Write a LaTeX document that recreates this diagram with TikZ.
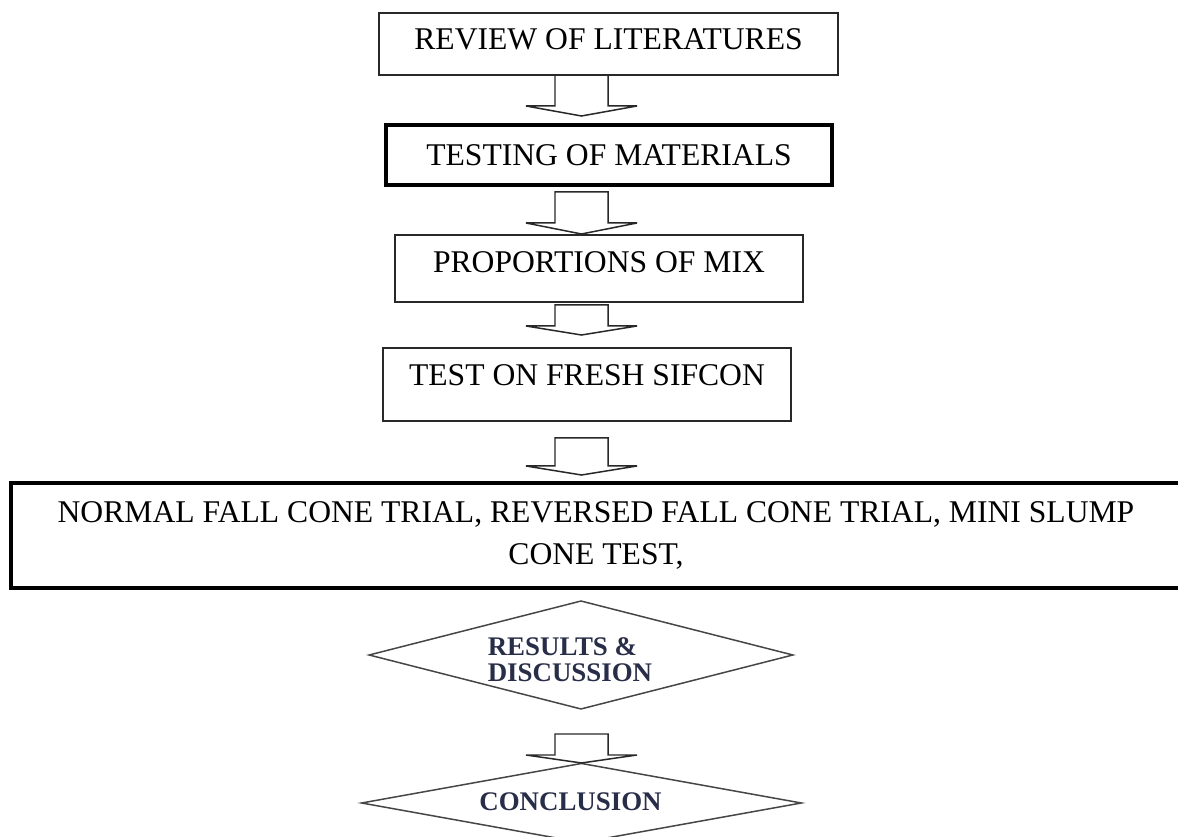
\documentclass[tikz,border=0pt]{standalone}
\usepackage{fontspec}
\setmainfont{Liberation Serif}
\usetikzlibrary{shapes.geometric}
\def\pxu{0.56693pt}
\definecolor{linecol}{RGB}{40,40,40}
\definecolor{dlinecol}{RGB}{70,70,70}
\definecolor{dtextcol}{RGB}{40,45,72}
\tikzset{
  box/.style={draw=linecol, line width=0.9pt, rectangle, inner sep=0pt,
    font=\fontsize{18.0}{23.5}\selectfont, text=black},
  thickbox/.style={box, draw=black, line width=2.4pt},
  diam/.style={draw=dlinecol, line width=0.85pt, diamond, inner sep=0pt},
  dtext/.style={font=\fontsize{15.3}{15}\selectfont\bfseries, text=dtextcol,
    inner sep=0pt, align=left},
  barrow/.style={draw=linecol, line width=0.85pt, line join=miter},
}
% block arrow: x centre, shaft top, head line, tip
\newcommand\blockarrow[4]{%
  \draw[barrow] (#1-26.5,#2) -- (#1-26.5,#3) -- (#1-55.5,#3) -- (#1,#4)
    -- (#1+55.5,#3) -- (#1+26.5,#3) -- (#1+26.5,#2) -- cycle;}
\begin{document}
\begin{tikzpicture}[x=0.02cm, y=-0.02cm]
\useasboundingbox (0,0) rectangle (1178,837);
\clip (0,0) rectangle (1178,837);
\fill[white] (0,0) rectangle (1178,837);

\node[box, minimum width=461*\pxu, minimum height=62*\pxu,
  text height=11.92pt, text depth=10*\pxu] (b1) at (608.5,44) {REVIEW OF LITERATURES};
\node[thickbox, minimum width=448*\pxu, minimum height=60*\pxu,
  text height=11.92pt, text depth=0pt] (b2) at (609,155) {TESTING OF MATERIALS};
\node[box, minimum width=410*\pxu, minimum height=67*\pxu,
  text height=11.92pt, text depth=12*\pxu] (b3) at (599,268.5) {PROPORTIONS OF MIX};
\node[box, minimum width=410*\pxu, minimum height=73*\pxu,
  text height=11.92pt, text depth=19*\pxu] (b4) at (587,384.5) {TEST ON FRESH SIFCON};
\node[thickbox, minimum width=1174*\pxu, minimum height=105*\pxu, align=center]
  (b5) at (596,535.5) {NORMAL FALL CONE TRIAL, REVERSED FALL CONE TRIAL, MINI SLUMP\\CONE TEST,};

\node[diam, minimum width=426*\pxu, minimum height=109*\pxu] (d1) at (581,655) {};
\node[dtext] (d1t) at (570,659.5) {RESULTS \&\\DISCUSSION};
\node[diam, minimum width=442*\pxu, minimum height=80*\pxu] (d2) at (581.5,803) {};
\node[dtext] (d2t) at (570.5,802) {CONCLUSION};

\blockarrow{581.5}{75}{106}{116}
\blockarrow{581.5}{192}{223}{234}
\blockarrow{581.5}{305}{326}{335}
\blockarrow{581.5}{438}{466}{475}
\blockarrow{581.5}{734}{755}{763}
\end{tikzpicture}
\end{document}
